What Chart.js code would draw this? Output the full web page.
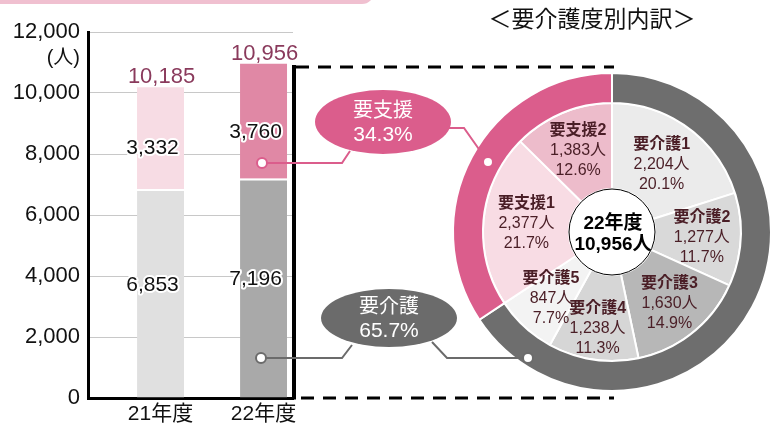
<!DOCTYPE html>
<html>
<head>
<meta charset="utf-8">
<script src="https://cdn.jsdelivr.net/npm/chart.js@4.4.1/dist/chart.umd.min.js"></script>
<style>
  html, body { margin: 0; padding: 0; background: #fff; }
  #wrap { position: relative; width: 772px; height: 423px; }
  #wrap canvas { position: absolute; left: 0; top: 0; }
</style>
</head>
<body>
<div id="wrap">
  <canvas id="bars" width="772" height="423"></canvas>
  <canvas id="ring" width="772" height="423"></canvas>
</div>
<script>
// 年度別 認定者数
const years = ['21年度', '22年度'];
const kaigo = [6853, 7196];   // 要介護
const shien = [3332, 3760];   // 要支援
const yMax = 12000;
const yStep = 2000;

// 22年度 内訳
const groupLabels = ['要介護', '要支援'];
const groupPct = [65.7, 34.3];
const levelLabels = ['要介護1', '要介護2', '要介護3', '要介護4', '要介護5', '要支援1', '要支援2'];
const levelPeople = [2204, 1277, 1630, 1238, 847, 2377, 1383];
const levelPct = [20.1, 11.7, 14.9, 11.3, 7.7, 21.7, 12.6];

const FONT = "'Liberation Sans', 'Noto Sans CJK JP', sans-serif";
const fmt = n => n.toLocaleString('en-US');
const totals = kaigo.map((v, i) => v + shien[i]);

// 白フチ付き文字
function haloText(ctx, txt, x, y, color) {
  ctx.save();
  ctx.lineJoin = 'round';
  ctx.lineWidth = 4;
  ctx.strokeStyle = '#fff';
  ctx.strokeText(txt, x, y);
  ctx.fillStyle = color;
  ctx.fillText(txt, x, y);
  ctx.restore();
}

const barDecor = {
  id: 'barDecor',
  beforeDraw(chart) {
    const ctx = chart.ctx;
    // 上部の帯
    ctx.save();
    ctx.fillStyle = '#f0c0d0';
    ctx.beginPath();
    ctx.roundRect(-20, -20, 394, 24, 14);
    ctx.fill();
    ctx.restore();
  },
  afterDatasetsDraw(chart) {
    const ctx = chart.ctx;
    const ys = chart.scales.y;
    const m0 = chart.getDatasetMeta(0);
    const m1 = chart.getDatasetMeta(1);
    ctx.save();
    ctx.textAlign = 'center';
    ctx.textBaseline = 'middle';
    ctx.font = '21px ' + FONT;
    years.forEach((yr, i) => {
      const bx = m0.data[i].x;
      haloText(ctx, fmt(kaigo[i]), bx - 8, ys.getPixelForValue(kaigo[i] * 0.54), '#111');
      haloText(ctx, fmt(shien[i]), bx - 8, ys.getPixelForValue(kaigo[i] + shien[i] * 0.4), '#111');
    });
    ctx.font = '22px ' + FONT;
    ctx.textBaseline = 'alphabetic';
    ctx.fillStyle = '#8a3a5c';
    years.forEach((yr, i) => {
      const bar = m1.data[i];
      ctx.fillText(fmt(totals[i]), bar.x + 1, bar.y - 4);
    });
    // 単位
    ctx.font = '20px ' + FONT;
    ctx.textAlign = 'right';
    ctx.textBaseline = 'middle';
    ctx.fillStyle = '#111';
    ctx.fillText('(人)', 80, 58);

    // 拡大枠
    const ca = chart.chartArea;
    ctx.strokeStyle = '#000';
    ctx.lineWidth = 4;
    ctx.beginPath();
    ctx.moveTo(ca.right + 1, 65);
    ctx.lineTo(ca.right + 1, ca.bottom + 1.5);
    ctx.stroke();
    ctx.lineWidth = 3;
    ctx.setLineDash([13, 9]);
    ctx.beginPath();
    ctx.moveTo(ca.right + 3, 67);
    ctx.lineTo(614, 67);
    ctx.moveTo(ca.right + 8, ca.bottom);
    ctx.lineTo(614, ca.bottom);
    ctx.stroke();
    ctx.restore();
  }
};

new Chart(document.getElementById('bars'), {
  type: 'bar',
  data: {
    datasets: [
      {
        label: '要介護',
        data: kaigo.map((v, i) => ({ x: i + 1, y: v })),
        backgroundColor: ['#e0e0e0', '#a9a9a9'],
        borderColor: '#fff',
        borderWidth: { top: 2, left: 0, right: 0, bottom: 0 },
        borderSkipped: false,
        barPercentage: 0.456,
        categoryPercentage: 1
      },
      {
        label: '要支援',
        data: shien.map((v, i) => ({ x: i + 1, y: v })),
        backgroundColor: ['#f7dce4', '#e088a5'],
        borderWidth: 0,
        barPercentage: 0.456,
        categoryPercentage: 1
      }
    ]
  },
  options: {
    responsive: false,
    animation: false,
    devicePixelRatio: 1,
    layout: { padding: { left: 0, top: 32, right: 479, bottom: 0 } },
    plugins: { legend: { display: false }, tooltip: { enabled: false } },
    scales: {
      x: {
        type: 'linear',
        stacked: true,
        offset: false,
        bounds: 'data',
        min: 0.296,
        max: 2.286,
        afterBuildTicks: s => { s.ticks = years.map((_, i) => ({ value: i + 1 })); },
        afterFit: s => { s.height = 25; },
        grid: { display: false, drawTicks: false, offset: false },
        border: { display: true, color: '#000', width: 3 },
        ticks: {
          callback: v => years[v - 1],
          font: { family: FONT, size: 21 },
          color: '#111',
          padding: 4,
          maxRotation: 0,
          autoSkip: false
        }
      },
      y: {
        stacked: true,
        min: 0,
        max: yMax,
        afterFit: s => { s.width = 88; },
        grid: { color: '#c8c8c8', lineWidth: 1, drawTicks: false },
        border: { display: true, color: '#000', width: 3 },
        ticks: {
          stepSize: yStep,
          callback: v => fmt(v),
          font: { family: FONT, size: 22 },
          color: '#111',
          padding: 8
        }
      }
    }
  },
  plugins: [barDecor]
});

// ドーナツ上の注記
function callout(ctx, cx, cy, rx, ry, color, lines) {
  ctx.fillStyle = color;
  ctx.beginPath();
  ctx.ellipse(cx, cy, rx, ry, 0, 0, Math.PI * 2);
  ctx.fill();
  ctx.fillStyle = '#fff';
  ctx.textAlign = 'center';
  ctx.textBaseline = 'middle';
  ctx.font = '20px ' + FONT;
  ctx.fillText(lines[0], cx, cy - 11);
  ctx.font = '21px ' + FONT;
  ctx.fillText(lines[1], cx, cy + 13);
}
function path(ctx, pts, color) {
  ctx.strokeStyle = color;
  ctx.lineWidth = 2;
  ctx.beginPath();
  pts.forEach((p, i) => i ? ctx.lineTo(p[0], p[1]) : ctx.moveTo(p[0], p[1]));
  ctx.stroke();
}
function dot(ctx, x, y, color) {
  ctx.fillStyle = '#fff';
  ctx.strokeStyle = color;
  ctx.lineWidth = 2;
  ctx.beginPath();
  ctx.arc(x, y, 5, 0, Math.PI * 2);
  ctx.fill();
  ctx.stroke();
}

// ラベルの中心からの距離
const labelRadius = [84, 90, 92, 98, 90, 86, 88];

const ringDecor = {
  id: 'ringDecor',
  afterDraw(chart) {
    const ctx = chart.ctx;
    const inner = chart.getDatasetMeta(1);
    const arc0 = inner.data[0];
    const cx = arc0.x, cy = arc0.y;
    ctx.save();

    ctx.fillStyle = '#111';
    ctx.textAlign = 'center';
    ctx.textBaseline = 'middle';
    ctx.font = '23px ' + FONT;
    ctx.fillText('＜要介護度別内訳＞', 592, 21);

    // 中央
    ctx.fillStyle = '#fff';
    ctx.strokeStyle = '#000';
    ctx.lineWidth = 1;
    ctx.beginPath();
    ctx.arc(cx, cy, 43, 0, Math.PI * 2);
    ctx.fill();
    ctx.stroke();
    ctx.fillStyle = '#000';
    ctx.font = 'bold 19px ' + FONT;
    ctx.fillText(years[1], cx + 1, cy - 8);
    ctx.fillText(fmt(totals[1]) + '人', cx + 1, cy + 13);

    // 内訳ラベル
    inner.data.forEach((arc, i) => {
      const mid = (arc.startAngle + arc.endAngle) / 2;
      const px = cx + Math.cos(mid) * labelRadius[i];
      const py = cy + Math.sin(mid) * labelRadius[i];
      ctx.fillStyle = '#4a1e26';
      ctx.font = 'bold 16px ' + FONT;
      ctx.fillText(levelLabels[i], px, py - 20);
      ctx.font = '16px ' + FONT;
      ctx.fillText(fmt(levelPeople[i]) + '人', px, py);
      ctx.fillText(levelPct[i].toFixed(1) + '%', px, py + 20);
    });

    // 引き出し線
    const pink = '#db5d8c', gray = '#6b6b6b';
    path(ctx, [[262, 163], [342, 163], [350, 151]], pink);
    path(ctx, [[449, 128], [464, 128], [488, 162]], pink);
    path(ctx, [[261, 358], [342, 358], [352, 345]], gray);
    path(ctx, [[432, 342], [447, 358], [528, 358]], gray);
    callout(ctx, 383, 122, 68, 32, pink, [groupLabels[1], groupPct[1].toFixed(1) + '%']);
    callout(ctx, 389, 318, 68, 29, gray, [groupLabels[0], groupPct[0].toFixed(1) + '%']);
    dot(ctx, 262, 163, pink);
    dot(ctx, 488, 162, pink);
    dot(ctx, 261, 358, gray);
    dot(ctx, 528, 358, gray);
    ctx.restore();
  }
};

new Chart(document.getElementById('ring'), {
  type: 'doughnut',
  data: {
    labels: levelLabels,
    datasets: [
      {
        label: '区分',
        data: groupPct,
        backgroundColor: ['#6e6e6e', '#db5d8c'],
        borderColor: '#fff',
        borderWidth: 2,
        weight: 30
      },
      {
        label: '内訳',
        data: levelPct,
        backgroundColor: ['#ebebeb', '#d9d9d9', '#b7b7b7', '#d6d6d6', '#f3f3f3', '#f8dce4', '#edbccb'],
        borderColor: '#fff',
        borderWidth: 2,
        weight: 86
      }
    ]
  },
  options: {
    responsive: false,
    animation: false,
    devicePixelRatio: 1,
    cutout: 43,
    layout: { padding: { left: 452, right: 0, top: 72, bottom: 31 } },
    plugins: { legend: { display: false }, tooltip: { enabled: false } }
  },
  plugins: [ringDecor]
});
</script>
</body>
</html>
